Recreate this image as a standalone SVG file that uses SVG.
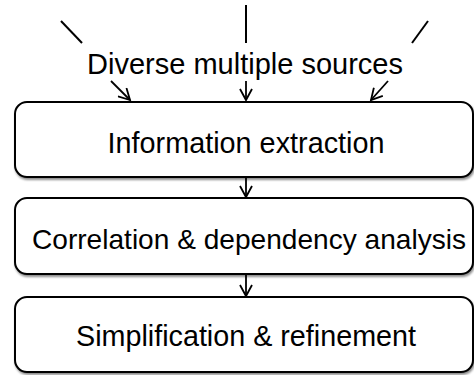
<svg xmlns="http://www.w3.org/2000/svg" width="474" height="375" viewBox="0 0 474 375">
<style>
.box{fill:#fff;stroke:#000;stroke-width:2;filter:url(#sh)}
.lbl{font-family:"Liberation Sans",Arial,sans-serif;font-size:29px;fill:#000;text-anchor:middle}
.ln{stroke:#000;stroke-width:2;fill:none}
.ar{stroke:#000;stroke-width:1.8;fill:none;marker-end:url(#ah)}
</style>
<defs>
<filter id="sh" x="-5%" y="-10%" width="115%" height="130%">
<feDropShadow dx="1" dy="2" stdDeviation="1" flood-color="#000" flood-opacity="0.45"/>
</filter>
<marker id="ah" markerUnits="userSpaceOnUse" markerWidth="14" markerHeight="14" viewBox="-12 -7 14 14" refX="0" refY="0" orient="auto">
<path d="M-11,-6 L0,0 L-11,6" fill="none" stroke="#000" stroke-width="1.8"/>
</marker>
</defs>
<rect width="474" height="375" fill="#fff"/>
<g id="connectors">
<line class="ln" x1="61" y1="21" x2="82" y2="43"/>
<line class="ln" x1="246" y1="5" x2="246" y2="43"/>
<line class="ln" x1="428" y1="21" x2="412" y2="43"/>
<line class="ar" x1="111" y1="81" x2="130" y2="100"/>
<line class="ar" x1="246" y1="81" x2="246" y2="100"/>
<line class="ar" x1="388" y1="81" x2="371" y2="100"/>
<line class="ar" x1="246" y1="177" x2="246" y2="197"/>
<line class="ar" x1="246" y1="274" x2="246" y2="296"/>
</g>
<g id="sources">
<text class="lbl" x="245" y="74" textLength="316" lengthAdjust="spacingAndGlyphs">Diverse multiple sources</text>
</g>
<g id="extraction">
<rect class="box" x="15" y="102" width="458" height="75" rx="12"/>
<text class="lbl" x="246" y="153" textLength="277" lengthAdjust="spacingAndGlyphs">Information extraction</text>
</g>
<g id="correlation">
<rect class="box" x="15" y="198" width="458" height="76" rx="12"/>
<text class="lbl" x="249" y="249" style="font-size:28px" textLength="434" lengthAdjust="spacingAndGlyphs">Correlation &amp; dependency analysis</text>
</g>
<g id="simplification">
<rect class="box" x="15" y="297" width="458" height="75" rx="12"/>
<text class="lbl" x="246" y="346" textLength="340" lengthAdjust="spacingAndGlyphs">Simplification &amp; refinement</text>
</g>
</svg>
